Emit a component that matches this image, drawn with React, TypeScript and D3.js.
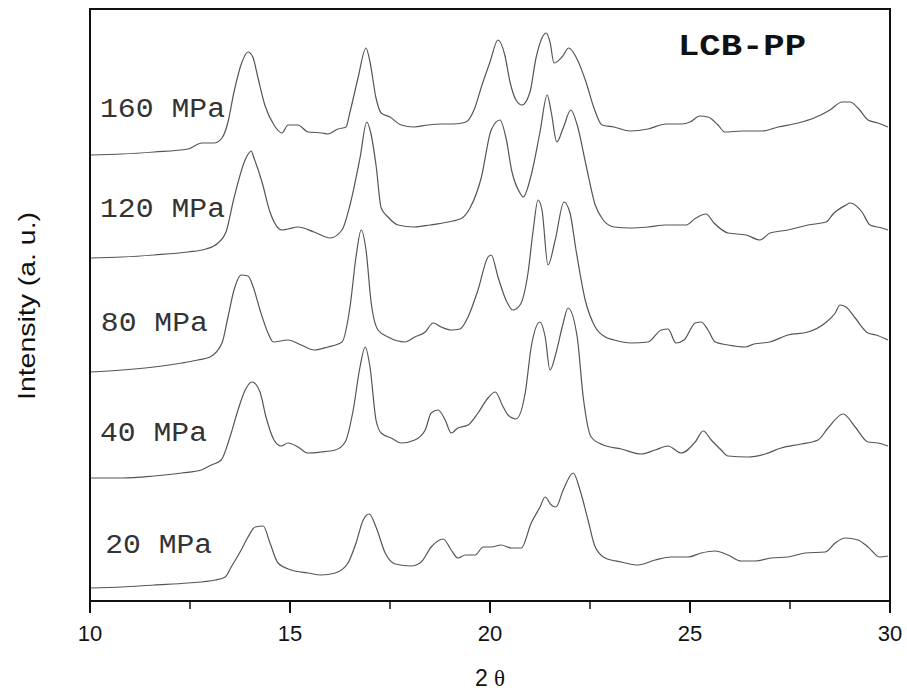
import React from "react";
import * as d3 from "d3";

// 2θ (deg) vs intensity (a. u.), curves already offset as in the figure
const mpa160: [number, number][] = [
  [10.0, 446], [10.8, 447], [11.6, 449], [12.45, 452], [12.8, 458], [13.1, 458], [13.3, 463],
  [13.45, 479], [13.6, 509], [13.8, 539], [13.95, 549], [14.07, 544], [14.2, 523], [14.37, 496],
  [14.6, 476], [14.8, 468], [14.95, 476], [15.2, 476], [15.45, 469], [15.8, 468], [15.95, 467],
  [16.2, 472], [16.4, 474], [16.5, 489], [16.7, 523], [16.9, 553], [17.0, 539], [17.15, 503],
  [17.28, 488], [17.5, 484], [17.78, 476], [18.1, 474], [18.45, 476], [18.8, 477], [19.1, 477],
  [19.4, 479], [19.6, 491], [19.8, 516], [20.0, 539], [20.2, 561], [20.37, 546], [20.5, 519],
  [20.65, 501], [20.8, 496], [21.0, 509], [21.15, 543], [21.3, 563], [21.4, 568], [21.5, 559],
  [21.6, 538], [21.8, 544], [21.97, 553], [22.15, 544], [22.4, 519], [22.6, 493], [22.8, 476],
  [23.1, 474], [23.5, 470], [23.95, 472], [24.4, 477], [24.8, 477], [25.0, 479], [25.25, 485],
  [25.45, 484], [25.7, 476], [25.87, 469], [26.3, 470], [26.8, 470], [27.2, 474], [27.7, 478],
  [28.1, 483], [28.5, 491], [28.8, 499], [29.0, 499], [29.2, 493], [29.45, 481], [29.7, 478],
  [29.95, 474],
];

const mpa120: [number, number][] = [
  [10.0, 343], [10.8, 344], [11.6, 346], [12.45, 349], [12.9, 352], [13.2, 358], [13.4, 369],
  [13.6, 403], [13.9, 443], [14.03, 450], [14.1, 443], [14.3, 419], [14.5, 389], [14.8, 371],
  [14.95, 372], [15.2, 374], [15.6, 369], [16.0, 363], [16.3, 371], [16.5, 396], [16.75, 443],
  [16.92, 479], [17.02, 468], [17.15, 436], [17.28, 393], [17.45, 384], [17.7, 376], [18.1, 374],
  [18.5, 376], [18.95, 379], [19.3, 383], [19.5, 393], [19.78, 423], [20.03, 471], [20.25, 481],
  [20.4, 463], [20.55, 429], [20.75, 408], [20.83, 404], [21.03, 426], [21.25, 469], [21.43, 506],
  [21.53, 489], [21.67, 459], [21.83, 473], [22.02, 491], [22.18, 476], [22.4, 436], [22.63, 396],
  [22.83, 381], [23.1, 374], [23.5, 373], [23.95, 374], [24.4, 376], [24.9, 376], [25.15, 383],
  [25.4, 387], [25.6, 378], [25.95, 368], [26.4, 366], [26.75, 361], [27.0, 368], [27.45, 371],
  [27.95, 376], [28.4, 379], [28.6, 388], [28.9, 396], [29.0, 398], [29.3, 389], [29.5, 376],
  [29.8, 373], [29.95, 371],
];

const mpa80: [number, number][] = [
  [10.0, 229], [10.8, 231], [11.6, 234], [12.3, 238], [12.7, 241], [13.0, 244], [13.3, 258],
  [13.45, 284], [13.6, 311], [13.78, 326], [13.95, 325], [14.08, 314], [14.25, 291], [14.45, 268],
  [14.58, 259], [14.95, 261], [15.28, 256], [15.6, 251], [15.95, 254], [16.3, 259], [16.5, 294],
  [16.65, 344], [16.78, 371], [16.9, 351], [17.03, 298], [17.2, 271], [17.45, 264], [17.88, 259],
  [18.12, 264], [18.38, 269], [18.58, 278], [18.78, 274], [19.03, 271], [19.25, 272], [19.45, 284],
  [19.7, 311], [19.95, 344], [20.03, 346], [20.2, 324], [20.4, 301], [20.57, 291], [20.75, 296],
  [20.95, 328], [21.08, 371], [21.2, 401], [21.3, 391], [21.45, 336], [21.63, 361], [21.85, 399],
  [22.0, 388], [22.15, 351], [22.38, 301], [22.63, 274], [22.88, 264], [23.1, 261], [23.53, 258],
  [23.95, 259], [24.28, 271], [24.45, 272], [24.65, 258], [24.85, 261], [25.13, 278], [25.28, 279],
  [25.45, 271], [25.63, 259], [25.95, 256], [26.38, 254], [26.6, 257], [27.0, 259], [27.45, 266],
  [27.95, 269], [28.38, 278], [28.63, 288], [28.75, 296], [28.9, 294], [29.13, 283], [29.45, 268],
  [29.65, 266], [29.95, 261],
];

const mpa40: [number, number][] = [
  [10.0, 123], [10.8, 123], [11.6, 125], [12.3, 128], [12.78, 131], [13.03, 136], [13.28, 141],
  [13.5, 164], [13.7, 191], [13.88, 211], [14.05, 219], [14.25, 209], [14.4, 184], [14.6, 161],
  [14.78, 155], [14.95, 158], [15.2, 154], [15.45, 148], [15.78, 149], [16.13, 151], [16.38, 159],
  [16.58, 191], [16.75, 234], [16.88, 254], [17.0, 234], [17.15, 181], [17.28, 168], [17.53, 163],
  [17.78, 158], [18.12, 161], [18.38, 171], [18.53, 188], [18.7, 191], [18.88, 181], [19.03, 168],
  [19.2, 173], [19.45, 176], [19.7, 188], [19.95, 203], [20.13, 209], [20.33, 194], [20.45, 186],
  [20.65, 182], [20.88, 208], [21.03, 254], [21.25, 279], [21.38, 264], [21.5, 231], [21.65, 248],
  [21.83, 278], [21.95, 293], [22.18, 264], [22.33, 204], [22.53, 164], [22.83, 156], [23.28, 152],
  [23.78, 147], [24.13, 151], [24.45, 155], [24.78, 148], [25.13, 159], [25.33, 170], [25.53, 161],
  [25.78, 151], [25.95, 145], [26.45, 144], [26.88, 147], [27.28, 153], [27.78, 157], [28.2, 161],
  [28.45, 173], [28.83, 187], [29.13, 174], [29.45, 159], [29.7, 158], [29.95, 155],
];

const mpa20: [number, number][] = [
  [10.0, 13], [10.8, 14], [11.6, 16], [12.45, 18], [13.13, 21], [13.38, 24], [13.53, 34],
  [13.78, 51], [13.95, 64], [14.13, 74], [14.33, 75], [14.5, 58], [14.7, 38], [15.03, 31],
  [15.45, 28], [15.78, 26], [16.13, 28], [16.45, 38], [16.65, 58], [16.83, 81], [16.98, 87],
  [17.15, 74], [17.38, 48], [17.63, 37], [18.03, 35], [18.28, 39], [18.53, 54], [18.83, 62],
  [19.03, 51], [19.2, 43], [19.38, 46], [19.63, 46], [19.83, 54], [20.03, 54], [20.28, 56],
  [20.53, 53], [20.78, 53], [21.03, 78], [21.25, 94], [21.38, 104], [21.53, 96], [21.65, 94],
  [21.83, 111], [22.08, 128], [22.25, 111], [22.45, 81], [22.63, 54], [22.88, 43], [23.28, 39],
  [23.7, 36], [24.13, 41], [24.53, 44], [24.95, 44], [25.28, 48], [25.63, 50], [25.95, 46],
  [26.28, 40], [26.63, 40], [27.03, 43], [27.45, 44], [27.88, 48], [28.38, 49], [28.63, 58],
  [28.88, 63], [29.2, 61], [29.45, 54], [29.75, 44], [29.95, 45],
];

const seriesData = [mpa160, mpa120, mpa80, mpa40, mpa20];
const seriesLabels = ["160 MPa", "120 MPa", "80 MPa", "40 MPa", "20 MPa"];
// label baseline in intensity units, left edge in 2θ
const labelY = [484, 384, 270, 160, 48];
const labelX = [10.25, 10.25, 10.27, 10.25, 10.38];
const majorTicks = [10, 15, 20, 25, 30];
const minorTicks = [12.5, 17.5, 22.5, 27.5];

export default function App() {
  const width = 907;
  const height = 693;
  const margin = { top: 9, right: 17, bottom: 92, left: 90 };

  const x = d3.scaleLinear().domain([10, 30]).range([margin.left, width - margin.right]);
  const y = d3.scaleLinear().domain([0, 592]).range([height - margin.bottom, margin.top]);

  const line = d3
    .line<[number, number]>()
    .x((d) => x(d[0]))
    .y((d) => y(d[1]))
    .curve(d3.curveMonotoneX);

  const bottom = height - margin.bottom;

  return (
    <svg
      width={width}
      height={height}
      style={{ position: "absolute", left: 0, top: 0, background: "#fff" }}
    >
      {seriesData.map((s, i) => (
        <path key={i} d={line(s) ?? ""} fill="none" stroke="#555" strokeWidth={1.2} />
      ))}

      {seriesLabels.map((t, i) => (
        <text
          key={t}
          x={x(labelX[i])}
          y={y(labelY[i])}
          fontFamily="'Liberation Mono', 'Courier New', monospace"
          fontSize={27}
          fill="#333"
          textLength={t.length === 7 ? 125 : 107}
          lengthAdjust="spacingAndGlyphs"
        >
          {t}
        </text>
      ))}

      <text
        x={678}
        y={55}
        fontFamily="'Liberation Mono', 'Courier New', monospace"
        fontWeight="bold"
        fontSize={29}
        fill="#111"
        textLength={128}
        lengthAdjust="spacingAndGlyphs"
      >
        LCB-PP
      </text>

      <rect
        x={margin.left}
        y={margin.top}
        width={width - margin.left - margin.right}
        height={height - margin.top - margin.bottom}
        fill="none"
        stroke="#111"
        strokeWidth={2}
      />

      {majorTicks.map((t) => (
        <g key={t}>
          <line x1={x(t)} x2={x(t)} y1={bottom} y2={bottom + 12} stroke="#111" strokeWidth={2} />
          <text
            x={x(t)}
            y={bottom + 40}
            textAnchor="middle"
            fontFamily="'Liberation Sans', Arial, sans-serif"
            fontSize={22}
            fill="#111"
          >
            {t}
          </text>
        </g>
      ))}
      {minorTicks.map((t) => (
        <line key={t} x1={x(t)} x2={x(t)} y1={bottom} y2={bottom + 8} stroke="#111" strokeWidth={1.5} />
      ))}

      <text
        x={x(20)}
        y={bottom + 85}
        textAnchor="middle"
        fontFamily="'Liberation Sans', Arial, sans-serif"
        fontSize={23}
        fill="#111"
      >
        2 <tspan fontFamily="'Liberation Serif', 'DejaVu Serif', serif">θ</tspan>
      </text>

      <text
        transform={`translate(35, ${(margin.top + bottom) / 2 + 1}) rotate(-90)`}
        textAnchor="middle"
        fontFamily="'Liberation Sans', Arial, sans-serif"
        fontSize={24}
        fill="#111"
        textLength={188}
        lengthAdjust="spacingAndGlyphs"
      >
        Intensity (a. u.)
      </text>
    </svg>
  );
}
